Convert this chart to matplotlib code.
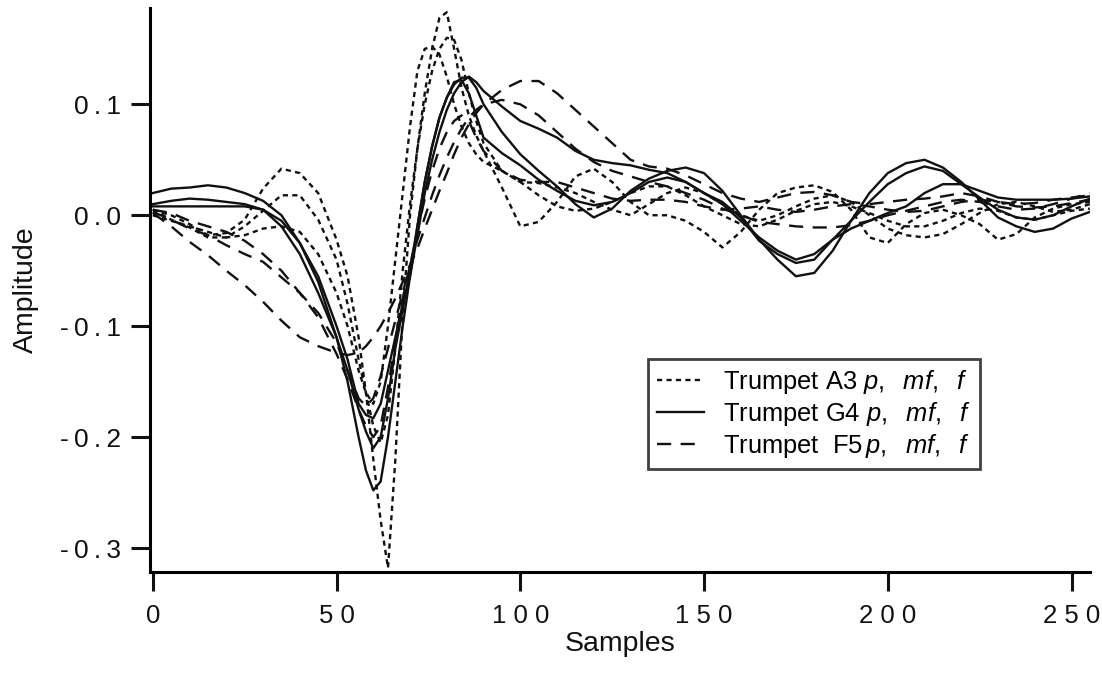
import matplotlib
matplotlib.use('Agg')
import matplotlib.pyplot as plt

plt.rcParams['font.family'] = ['Liberation Sans', 'DejaVu Sans']
plt.rcParams['mathtext.fontset'] = 'custom'
plt.rcParams['mathtext.rm'] = 'Liberation Sans'
plt.rcParams['mathtext.it'] = 'Liberation Sans:italic'

# sample positions
x = [0, 5, 10, 15, 20, 25, 30, 35, 40, 45, 50, 53, 56, 58, 60, 62, 64, 66, 68, 70,
     72, 74, 76, 78, 80, 82, 84, 86, 88, 90, 95, 100, 105, 110, 115, 120, 125, 130,
     135, 140, 145, 150, 155, 160, 165, 170, 175, 180, 185, 190, 195, 200, 205, 210,
     215, 220, 225, 230, 235, 240, 245, 250, 255]

# Trumpet A3 (dotted)
a3_f = [0.005, 0.0, -0.008, -0.018, -0.016, -0.004, 0.024, 0.042, 0.038, 0.02, -0.022,
        -0.055, -0.11, -0.16, -0.22, -0.275, -0.318, -0.22, -0.09, 0.0, 0.06, 0.11, 0.15,
        0.178, 0.183, 0.15, 0.115, 0.09, 0.072, 0.058, 0.025, -0.01, -0.006, 0.012, 0.035,
        0.042, 0.03, 0.012, 0.0, 0.0, -0.005, -0.015, -0.029, -0.015, 0.005, 0.02, 0.025,
        0.027, 0.021, 0.005, -0.02, -0.025, -0.008, 0.002, 0.005, 0.0, -0.008, -0.022,
        -0.017, -0.002, 0.006, 0.01, 0.012]
a3_mf = [0.005, -0.004, -0.011, -0.02, -0.02, -0.01, 0.004, 0.018, 0.018, -0.004, -0.04,
         -0.08, -0.13, -0.16, -0.19, -0.205, -0.18, -0.12, -0.05, 0.01, 0.06, 0.1, 0.13,
         0.15, 0.16, 0.158, 0.14, 0.11, 0.085, 0.065, 0.04, 0.03, 0.029, 0.025, 0.02,
         0.012, 0.005, 0.0, 0.01, 0.02, 0.025, 0.02, 0.01, 0.0, -0.005, 0.0, 0.008, 0.015,
         0.018, 0.012, 0.0, -0.012, -0.018, -0.02, -0.017, -0.008, 0.002, 0.01, 0.012,
         0.008, 0.003, 0.005, 0.01]
a3_p = [0.0, -0.005, -0.01, -0.015, -0.02, -0.018, -0.012, -0.01, -0.015, -0.035, -0.07,
        -0.1, -0.14, -0.16, -0.17, -0.15, -0.1, -0.04, 0.02, 0.08, 0.13, 0.15, 0.152,
        0.145, 0.125, 0.1, 0.08, 0.065, 0.055, 0.048, 0.04, 0.03, 0.018, 0.008, 0.004,
        0.006, 0.012, 0.02, 0.026, 0.026, 0.018, 0.008, 0.0, -0.008, -0.01, -0.004, 0.004,
        0.01, 0.012, 0.008, 0.002, -0.005, -0.01, -0.01, -0.005, 0.002, 0.006, 0.004,
        -0.002, -0.004, 0.0, 0.004, 0.006]

# Trumpet G4 (solid)
g4_f = [0.02, 0.024, 0.025, 0.027, 0.025, 0.02, 0.013, 0.0, -0.025, -0.06, -0.11, -0.15,
        -0.2, -0.23, -0.248, -0.24, -0.2, -0.15, -0.1, -0.055, -0.01, 0.03, 0.062, 0.088,
        0.106, 0.118, 0.124, 0.124, 0.115, 0.1, 0.075, 0.055, 0.04, 0.026, 0.01, -0.002,
        0.006, 0.022, 0.033, 0.04, 0.043, 0.038, 0.022, 0.0, -0.022, -0.04, -0.055, -0.052,
        -0.032, -0.005, 0.02, 0.038, 0.047, 0.05, 0.043, 0.03, 0.014, -0.002, -0.01,
        -0.015, -0.012, -0.003, 0.003]
g4_mf = [0.01, 0.013, 0.015, 0.014, 0.012, 0.01, 0.005, -0.01, -0.035, -0.07, -0.11,
         -0.14, -0.175, -0.195, -0.21, -0.2, -0.165, -0.12, -0.085, -0.05, -0.01, 0.03,
         0.062, 0.088, 0.106, 0.12, 0.122, 0.11, 0.09, 0.07, 0.056, 0.045, 0.032, 0.022,
         0.013, 0.009, 0.012, 0.02, 0.03, 0.034, 0.03, 0.02, 0.012, -0.002, -0.023,
         -0.035, -0.043, -0.04, -0.022, -0.005, 0.012, 0.028, 0.038, 0.044, 0.04, 0.028,
         0.016, 0.005, -0.002, -0.004, 0.0, 0.008, 0.015]
g4_p = [0.008, 0.008, 0.008, 0.008, 0.008, 0.008, 0.005, -0.005, -0.025, -0.055, -0.1,
        -0.13, -0.17, -0.18, -0.183, -0.17, -0.14, -0.11, -0.08, -0.055, -0.018, 0.02,
        0.05, 0.075, 0.095, 0.11, 0.12, 0.125, 0.12, 0.112, 0.098, 0.085, 0.078, 0.07,
        0.058, 0.05, 0.047, 0.045, 0.041, 0.038, 0.03, 0.02, 0.01, -0.005, -0.02, -0.032,
        -0.04, -0.035, -0.022, -0.012, -0.005, 0.002, 0.008, 0.02, 0.028, 0.028, 0.022,
        0.016, 0.014, 0.014, 0.014, 0.015, 0.017]

# Trumpet F5 (dashed)
f5_f = [0.005, 0.002, -0.005, -0.01, -0.015, -0.023, -0.035, -0.05, -0.07, -0.092, -0.125,
        -0.148, -0.175, -0.19, -0.2, -0.19, -0.155, -0.115, -0.075, -0.045, -0.015, 0.015,
        0.04, 0.06, 0.075, 0.085, 0.09, 0.085, 0.07, 0.058, 0.04, 0.032, 0.03, 0.03, 0.025,
        0.02, 0.015, 0.013, 0.014, 0.014, 0.012, 0.008, 0.005, 0.006, 0.008, 0.005, 0.003,
        0.005, 0.008, 0.01, 0.008, 0.005, 0.003, 0.004, 0.008, 0.012, 0.014, 0.012, 0.01,
        0.011, 0.014, 0.016, 0.018]
f5_mf = [0.003, -0.004, -0.012, -0.018, -0.027, -0.035, -0.042, -0.056, -0.07, -0.088,
         -0.115, -0.14, -0.165, -0.172, -0.165, -0.145, -0.12, -0.095, -0.07, -0.045,
         -0.022, -0.002, 0.018, 0.036, 0.052, 0.066, 0.078, 0.088, 0.095, 0.1, 0.104, 0.1,
         0.09, 0.075, 0.06, 0.048, 0.04, 0.035, 0.03, 0.026, 0.02, 0.014, 0.006, 0.0,
         -0.006, -0.008, -0.01, -0.011, -0.011, -0.009, -0.005, 0.0, 0.004, 0.008, 0.012,
         0.014, 0.012, 0.008, 0.005, 0.006, 0.01, 0.015, 0.02]
f5_p = [0.002, -0.01, -0.024, -0.036, -0.05, -0.063, -0.078, -0.095, -0.11, -0.118, -0.124,
        -0.126, -0.124, -0.118, -0.11, -0.1, -0.088, -0.075, -0.06, -0.045, -0.03, -0.012,
        0.005, 0.022, 0.038, 0.055, 0.07, 0.082, 0.092, 0.1, 0.113, 0.121, 0.121, 0.11,
        0.095, 0.08, 0.065, 0.05, 0.044, 0.042, 0.036, 0.028, 0.02, 0.015, 0.012, 0.016,
        0.02, 0.021, 0.018, 0.012, 0.01, 0.012, 0.014, 0.015, 0.017, 0.02, 0.017, 0.012,
        0.008, 0.007, 0.008, 0.011, 0.014]

xticks = [0, 50, 100, 150, 200, 250]
xtick_labels = ['0', '5 0', '1 0 0', '1 5 0', '2 0 0', '2 5 0']
yticks = [-0.3, -0.2, -0.1, 0.0, 0.1]
ytick_labels = ['-\u20090\u2009.\u20093', '-\u20090\u2009.\u20092', '-\u20090\u2009.\u20091',
                '0\u2009.\u20090', '0\u2009.\u20091']

fig = plt.figure(figsize=(11.02, 6.75), dpi=100)
ax = fig.add_axes([0.136, 0.1526, 0.853, 0.835])

c = '#111111'
dot = (0, (2.2, 1.8))
dash = (0, (6, 4))
ax.plot(x, a3_p, color=c, lw=1.7, linestyle=dot, label=r'Trumpet A3 $p,\ \ mf,\ \ f$')
ax.plot(x, g4_p, color=c, lw=1.7, label=r'Trumpet G4 $p,\ \ mf,\ \ f$')
ax.plot(x, f5_p, color=c, lw=1.7, linestyle=dash, label=r'Trumpet  F5$\,p,\ \ mf,\ \ f$')
ax.plot(x, a3_mf, color=c, lw=1.7, linestyle=dot)
ax.plot(x, a3_f, color=c, lw=1.7, linestyle=dot)
ax.plot(x, g4_mf, color=c, lw=1.7)
ax.plot(x, g4_f, color=c, lw=1.7)
ax.plot(x, f5_mf, color=c, lw=1.7, linestyle=dash)
ax.plot(x, f5_f, color=c, lw=1.7, linestyle=dash)

ax.set_xlim(-0.8, 255)
ax.set_ylim(-0.3216, 0.1865)
ax.spines['top'].set_visible(False)
ax.spines['right'].set_visible(False)
ax.spines['left'].set_linewidth(2.2)
ax.spines['bottom'].set_linewidth(2.2)
ax.set_xticks(xticks)
ax.set_xticklabels(xtick_labels)
ax.set_yticks(yticks)
ax.set_yticklabels(ytick_labels)
ax.tick_params(axis='both', direction='out', length=14, width=2.2,
               color=c, labelcolor=c)
ax.tick_params(axis='x', pad=9, labelsize=18.5)
ax.tick_params(axis='y', pad=7, labelsize=19)

ax.set_xlabel('Samples', fontsize=20.5, color=c, labelpad=2)
ax.set_ylabel('Amplitude', fontsize=20.5, color=c, labelpad=15)

leg = ax.legend(loc='upper left', bbox_to_anchor=(0.588, 0.468), bbox_transform=fig.transFigure,
                borderaxespad=0, fontsize=18.4, frameon=True, fancybox=False,
                handlelength=1.85, handletextpad=0.75, labelspacing=0.15, borderpad=0.35)
leg.get_frame().set_edgecolor(c)
leg.get_frame().set_linewidth(2.0)

fig.savefig('out.png', dpi=100)
